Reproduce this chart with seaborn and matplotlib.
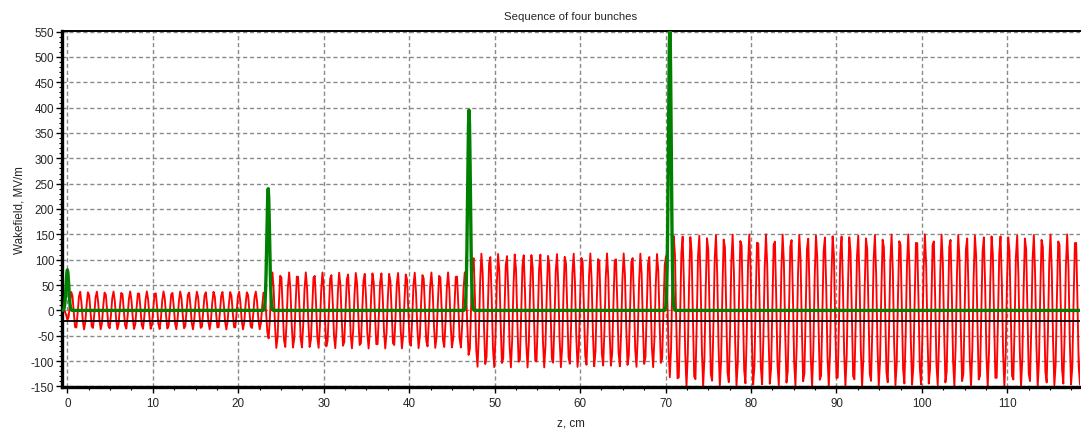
import numpy as np
import pandas as pd
import matplotlib
matplotlib.use("Agg")
import matplotlib.pyplot as plt
from matplotlib.ticker import MultipleLocator
import seaborn as sns

# Bunch train: positions (cm), peak density trace (MV/m scale) and wake added by each bunch
bunch_z = [0.0, 23.5, 47.0, 70.5]
bunch_peak = [80, 240, 395, 560]
wake_per_bunch = [37.5, 37.5, 37.5, 37.5]
bunch_sigma = 0.16          # cm, rms bunch length
plasma_wavelength = 0.979   # cm
reference_level = -20       # MV/m, horizontal marker line

x_ticks = [0, 10, 20, 30, 40, 50, 60, 70, 80, 90, 100, 110]
y_ticks = [-150, -100, -50, 0, 50, 100, 150, 200, 250, 300, 350, 400, 450, 500, 550]

x_min, x_max = -0.63, 118.5
y_min, y_max = -151, 551

# Solver output grids (the wake is stored on a coarse mesh, the density on a finer one)
z_wake = np.arange(-0.6, 119.0, 0.15)
z_beam = np.arange(-0.625, 119.0, 0.0625)

k = 2 * np.pi / plasma_wavelength
damp = np.exp(-(k * bunch_sigma) ** 2 / 2)


def bunch_wake(z, z0, amp):
    # longitudinal field behind a Gaussian bunch: cos-kernel convolved with the profile
    s = np.linspace(-4 * bunch_sigma, 4 * bunch_sigma, 161)
    g = np.exp(-s ** 2 / (2 * bunch_sigma ** 2))
    g /= g.sum()
    out = np.zeros_like(z)
    for si, gi in zip(s, g):
        d = z - (z0 + si)
        out += np.where(d >= 0, -gi * np.cos(k * d), 0.0)
    return amp / damp * out


wake = np.zeros_like(z_wake)
for z0, a in zip(bunch_z, wake_per_bunch):
    wake += bunch_wake(z_wake, z0, a)

beam = np.zeros_like(z_beam)
for z0, p in zip(bunch_z, bunch_peak):
    beam += p * np.exp(-(z_beam - z0) ** 2 / (2 * bunch_sigma ** 2))

wake_df = pd.DataFrame({"z": z_wake, "E": wake})
beam_df = pd.DataFrame({"z": z_beam, "n": beam})

sns.set_theme(style="white")
plt.rcParams["font.family"] = ["Liberation Sans", "DejaVu Sans"]
plt.rcParams["axes.unicode_minus"] = False

fig = plt.figure(figsize=(10.81, 4.31), dpi=100)
ax = fig.add_axes([62 / 1081, 1 - 388 / 431, (1080 - 62) / 1081, (388 - 32) / 431])

for xv in x_ticks:
    ax.axvline(xv, color="#8a8a8a", lw=1.0, ls=(0, (3, 2)), zorder=0)
for yv in y_ticks:
    ax.axhline(yv, color="#8a8a8a", lw=1.0, ls=(0, (3, 2)), zorder=0)

sns.lineplot(data=wake_df, x="z", y="E", color="#ff0000", lw=1.35,
             estimator=None, sort=False, ax=ax, zorder=2)
ax.axhline(reference_level, color="black", lw=1.3, zorder=3)
sns.lineplot(data=beam_df, x="z", y="n", color="#008000", lw=2.4,
             estimator=None, sort=False, ax=ax, zorder=4)

ax.set_xlim(x_min, x_max)
ax.set_ylim(y_min, y_max)
ax.set_xticks(x_ticks)
ax.set_yticks(y_ticks)
ax.xaxis.set_minor_locator(MultipleLocator(2.5))
ax.yaxis.set_minor_locator(MultipleLocator(10))
ax.tick_params(axis="both", which="major", direction="out", length=4, width=1,
               color="black", labelsize=8.4, pad=1.5, bottom=True, left=True)
ax.tick_params(axis="x", which="major", pad=3.5)
ax.tick_params(axis="both", which="minor", direction="out", length=2, width=0.8,
               color="black", bottom=True, left=True)

for side in ["left", "bottom"]:
    ax.spines[side].set_linewidth(2.4)
    ax.spines[side].set_color("black")
ax.spines["top"].set_linewidth(1.4)
ax.spines["top"].set_color("black")
ax.spines["right"].set_visible(False)

ax.set_title("Sequence of four bunches", fontsize=8.2, pad=9)
ax.set_xlabel("z, cm", fontsize=8.4, labelpad=5)
ax.set_ylabel("Wakefield, MV/m", fontsize=8.4, labelpad=4)

fig.savefig("out.png", dpi=100)
